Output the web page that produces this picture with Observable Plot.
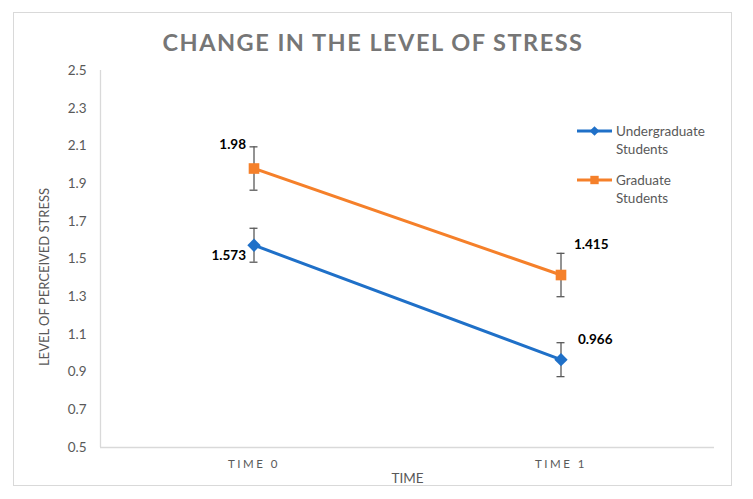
<!DOCTYPE html>
<html>
<head>
<meta charset="utf-8">
<script src="https://cdn.jsdelivr.net/npm/d3@7"></script>
<script src="https://cdn.jsdelivr.net/npm/@observablehq/plot@0.6"></script>
<style>
  html, body { margin: 0; padding: 0; background: #fff; }
  #wrap { position: relative; width: 753px; height: 499px; font-family: Lato, "Open Sans", sans-serif; }
  #border { position: absolute; left: 13px; top: 12px; width: 719px; height: 474px; border: 1.5px solid #d9d9d9; box-sizing: border-box; }
  #title { position: absolute; left: 13px; width: 720px; top: 28px; text-align: center; font-size: 23.5px; font-weight: bold; color: #767676; letter-spacing: 1.5px; }
  #ylabel { position: absolute; left: 44px; top: 277px; transform: translate(-50%, -50%) rotate(-90deg); white-space: nowrap; font-size: 13px; color: #595959; }
  #chart { position: absolute; left: 0; top: 0; }
  #chart g[aria-label="x-axis tick label"] text { letter-spacing: 2.5px; }
  #legend { position: absolute; left: 577px; top: 122px; font-size: 13.5px; color: #595959; line-height: 18px; }
  .item { display: flex; align-items: flex-start; margin-bottom: 13px; }
  .item svg { margin-top: 0px; margin-right: 3px; flex: none; }
</style>
</head>
<body>
<div id="wrap">
  <div id="border"></div>
  <div id="chart"></div>
  <div id="title"></div>
  <div id="ylabel"></div>
  <div id="legend"></div>
</div>
<script>
// ---- data ----
const titleText = "CHANGE IN THE LEVEL OF STRESS";
const timeLabels = ["TIME 0", "TIME 1"];
const seriesNames = ["Undergraduate Students", "Graduate Students"];
const undergradValues = [1.573, 0.966];
const gradValues = [1.98, 1.415];
const undergradErrors = [0.09, 0.09];
const gradErrors = [0.115, 0.115];
const yTickValues = [0.5, 0.7, 0.9, 1.1, 1.3, 1.5, 1.7, 1.9, 2.1, 2.3, 2.5];
const yLabel = "LEVEL OF PERCEIVED STRESS";
const xLabel = "TIME";
const colors = ["#1f70c8", "#f5802a"];
const symbols = ["diamond2", "square"];

// ---- build table ----
const rows = [];
[undergradValues, gradValues].forEach((vals, s) => {
  const errs = s === 0 ? undergradErrors : gradErrors;
  vals.forEach((v, i) => rows.push({series: seriesNames[s], t: i, value: v, err: errs[i], lo: v - errs[i], hi: v + errs[i]}));
});
const capW = 0.013;
const fmt = v => String(v);

document.getElementById("title").textContent = titleText;
document.getElementById("ylabel").textContent = yLabel;

const textBase = {x: "t", y: "value", text: d => fmt(d.value), fontWeight: "bold", fontSize: 13.5, fill: "#000"};

const chart = Plot.plot({
  width: 753,
  height: 499,
  marginLeft: 100,
  marginRight: 39,
  marginTop: 70,
  marginBottom: 52,
  style: {fontFamily: "Lato, 'Open Sans', sans-serif", background: "transparent", overflow: "visible"},
  x: {domain: [-0.5, 1.5]},
  y: {domain: [0.5, 2.5]},
  color: {domain: seriesNames, range: colors},
  marks: [
    Plot.ruleX([-0.5], {stroke: "#d9d9d9", strokeWidth: 1.3}),
    Plot.ruleY([0.5], {stroke: "#d9d9d9", strokeWidth: 1.3}),
    Plot.axisY({ticks: yTickValues, tickFormat: d3.format(".1f"), tickSize: 0, tickPadding: 14, fontSize: 13.5, color: "#595959", label: null}),
    Plot.axisX({ticks: [0, 1], tickFormat: i => timeLabels[i], tickSize: 0, tickPadding: 12, fontSize: 11.5, color: "#595959", label: null}),
    Plot.axisX({ticks: [], label: xLabel, labelAnchor: "center", labelOffset: 35, labelArrow: "none", fontSize: 13.5, color: "#595959"}),
    Plot.ruleX(rows, {x: "t", y1: "lo", y2: "hi", stroke: "#595959", strokeWidth: 1.3}),
    Plot.ruleY(rows, {y: "lo", x1: d => d.t - capW, x2: d => d.t + capW, stroke: "#595959", strokeWidth: 1.3}),
    Plot.ruleY(rows, {y: "hi", x1: d => d.t - capW, x2: d => d.t + capW, stroke: "#595959", strokeWidth: 1.3}),
    Plot.line(rows, {x: "t", y: "value", z: "series", stroke: "series", strokeWidth: 3}),
    Plot.dot(rows.filter(d => d.series === seriesNames[0]), {x: "t", y: "value", symbol: () => symbols[0], fill: "series", r: 6, stroke: "none"}),
    Plot.dot(rows.filter(d => d.series === seriesNames[1]), {x: "t", y: "value", symbol: () => symbols[1], fill: "series", r: 6, stroke: "none"}),
    // data labels
    Plot.text(rows.filter(d => d.series === seriesNames[1] && d.t === 0), {...textBase, textAnchor: "end", dx: -8, dy: -24}),
    Plot.text(rows.filter(d => d.series === seriesNames[0] && d.t === 0), {...textBase, textAnchor: "end", dx: -8, dy: 10}),
    Plot.text(rows.filter(d => d.series === seriesNames[1] && d.t === 1), {...textBase, textAnchor: "start", dx: 13, dy: -30}),
    Plot.text(rows.filter(d => d.series === seriesNames[0] && d.t === 1), {...textBase, textAnchor: "start", dx: 17, dy: -20})
  ]
});
document.getElementById("chart").appendChild(chart);

// ---- legend ----
const legend = document.getElementById("legend");
seriesNames.forEach((name, s) => {
  const item = document.createElement("div");
  item.className = "item";
  const sw = d3.create("svg").attr("width", 36).attr("height", 18);
  sw.append("line").attr("x1", 0).attr("x2", 35).attr("y1", 9).attr("y2", 9).attr("stroke", colors[s]).attr("stroke-width", 3);
  const sym = s === 0 ? d3.symbol(d3.symbolDiamond2, 60) : d3.symbol(d3.symbolSquare, 70);
  sw.append("path").attr("d", sym()).attr("transform", "translate(17.5,9)").attr("fill", colors[s]);
  item.appendChild(sw.node());
  const label = document.createElement("div");
  label.innerHTML = name.replace(" ", "<br>");
  item.appendChild(label);
  legend.appendChild(item);
});
</script>
</body>
</html>
